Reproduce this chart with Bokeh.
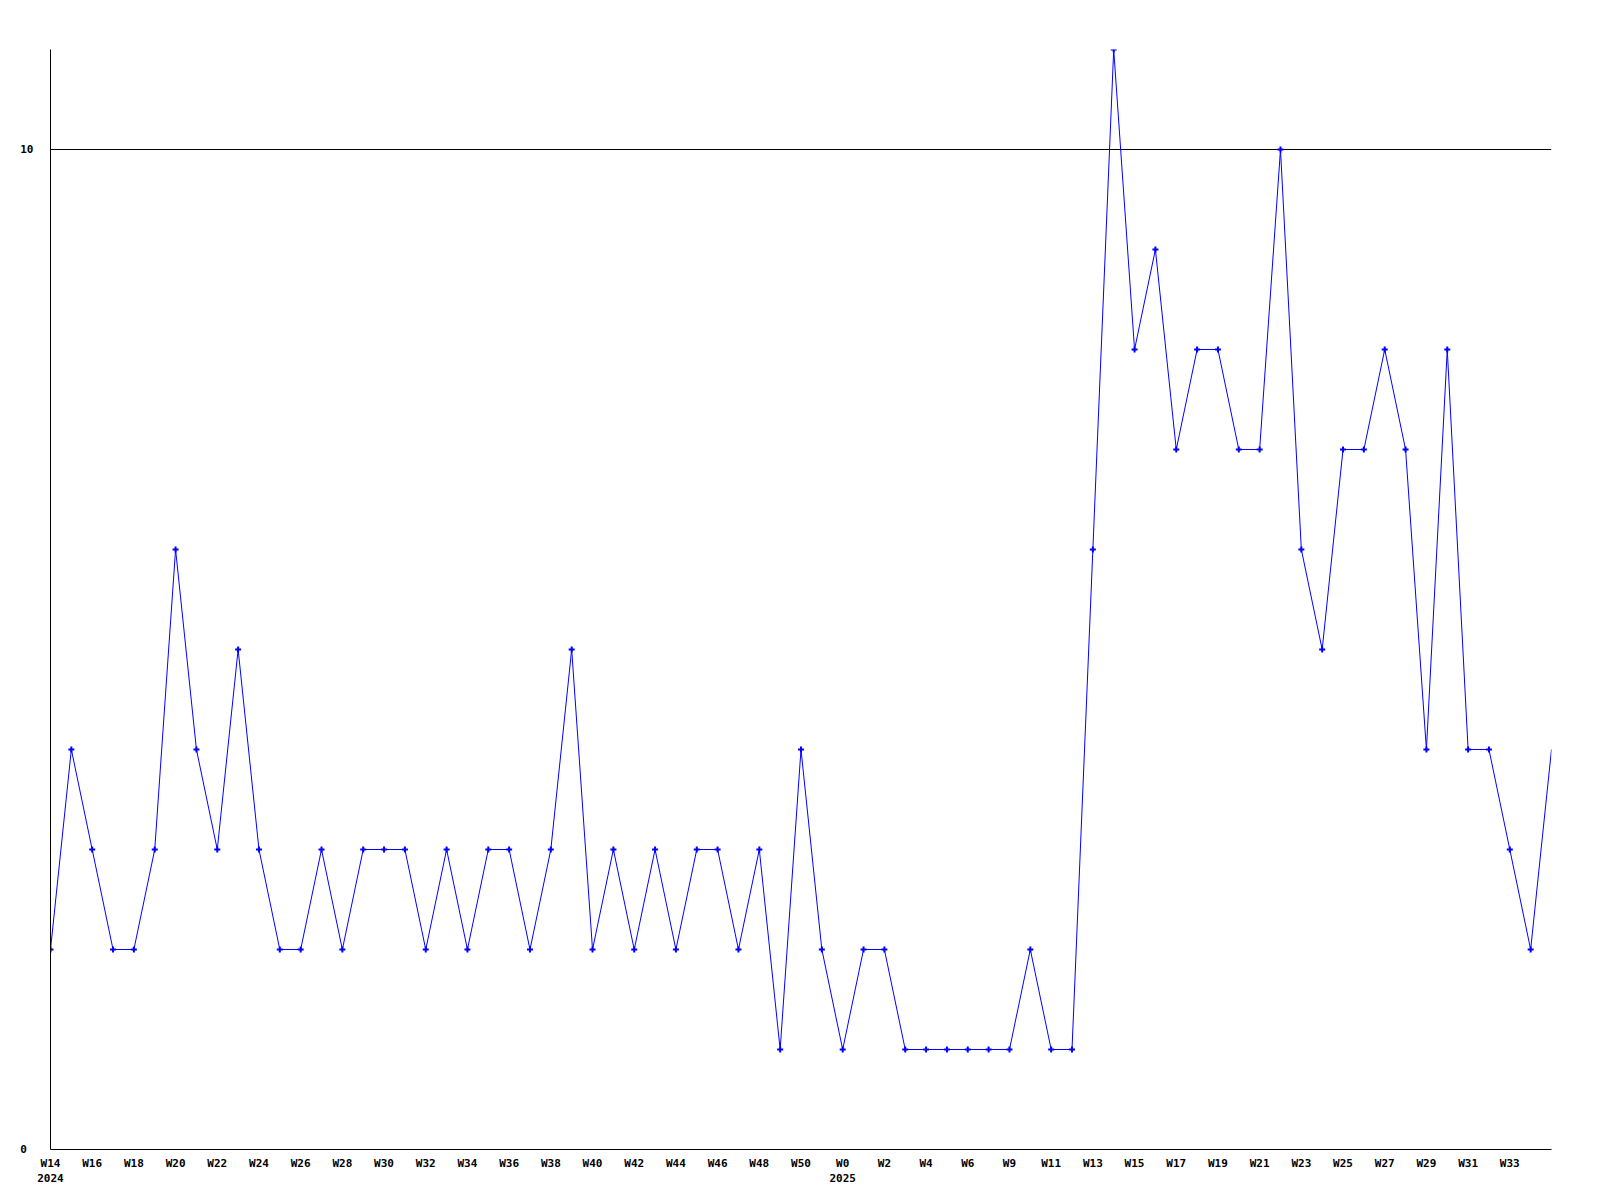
from bokeh.plotting import figure
from bokeh.models import Range1d, FixedTicker
from bokeh.embed import file_html
from bokeh.resources import INLINE

weeks = ["W14", "W15", "W16", "W17", "W18", "W19", "W20", "W21", "W22", "W23",
         "W24", "W25", "W26", "W27", "W28", "W29", "W30", "W31", "W32", "W33",
         "W34", "W35", "W36", "W37", "W38", "W39", "W40", "W41", "W42", "W43",
         "W44", "W45", "W46", "W47", "W48", "W49", "W50", "W51",
         "W0", "W1", "W2", "W3", "W4", "W5", "W6", "W8", "W9", "W10",
         "W11", "W12", "W13", "W14", "W15", "W16", "W17", "W18", "W19", "W20",
         "W21", "W22", "W23", "W24", "W25", "W26", "W27", "W28", "W29", "W30",
         "W31", "W32", "W33", "W34", "W35"]
year_marks = {0: "2024", 38: "2025"}
values = [2, 4, 3, 2, 2, 3, 6, 4, 3, 5,
          3, 2, 2, 3, 2, 3, 3, 3, 2, 3,
          2, 3, 3, 2, 3, 5, 2, 3, 2, 3,
          2, 3, 3, 2, 3, 1, 4, 2,
          1, 2, 2, 1, 1, 1, 1, 1, 1, 2,
          1, 1, 6, 11, 8, 9, 7, 8, 8, 7,
          7, 10, 6, 5, 7, 7, 8, 7, 4, 8,
          4, 4, 3, 2, 4]
y_ticks = [0, 10]

xs = list(range(len(values)))

p = figure(output_backend="svg", toolbar_location=None,
           frame_width=1501, frame_height=1100,
           min_border_left=50, min_border_top=49, min_border_right=33, min_border_bottom=40,
           x_range=Range1d(0, len(values) - 1), y_range=Range1d(0, 11))
p.outline_line_color = None
p.background_fill_color = "white"
p.border_fill_color = "white"

p.line(xs, values, line_color="#0000ff", line_width=1)
p.scatter(xs[:-1], values[:-1], marker="cross", size=6, line_width=2, line_color="#0000ff")

tick_idx = list(range(0, len(values) - 1, 2))
p.xaxis.ticker = FixedTicker(ticks=tick_idx)
p.xaxis.major_label_overrides = {i: (weeks[i] + ("\n" + year_marks[i] if i in year_marks else "")) for i in tick_idx}
p.xaxis.major_label_text_font = "DejaVu Sans Mono"
p.xaxis.major_label_text_font_style = "bold"
p.xaxis.major_label_text_font_size = "11px"
p.xaxis.major_label_text_color = "black"
p.xaxis.major_tick_line_color = None
p.xaxis.major_tick_out = 0
p.xaxis.major_tick_in = 0
p.xaxis.minor_tick_line_color = None
p.xaxis.major_label_standoff = 7
p.xaxis.axis_line_color = "black"

p.yaxis.ticker = FixedTicker(ticks=y_ticks)
p.yaxis.major_label_overrides = {0: "0\u00a0", 10: "10"}
p.yaxis.major_label_text_font = "DejaVu Sans Mono"
p.yaxis.major_label_text_font_style = "bold"
p.yaxis.major_label_text_font_size = "11px"
p.yaxis.major_label_text_color = "black"
p.yaxis.major_tick_line_color = None
p.yaxis.major_tick_out = 0
p.yaxis.major_tick_in = 0
p.yaxis.minor_tick_line_color = None
p.yaxis.major_label_standoff = 17
p.yaxis.axis_line_color = "black"

p.xgrid.grid_line_color = None
p.ygrid.ticker = FixedTicker(ticks=[10])
p.ygrid.grid_line_color = "black"
p.ygrid.grid_line_alpha = 1.0

open("out.html", "w").write(file_html(p, INLINE))
